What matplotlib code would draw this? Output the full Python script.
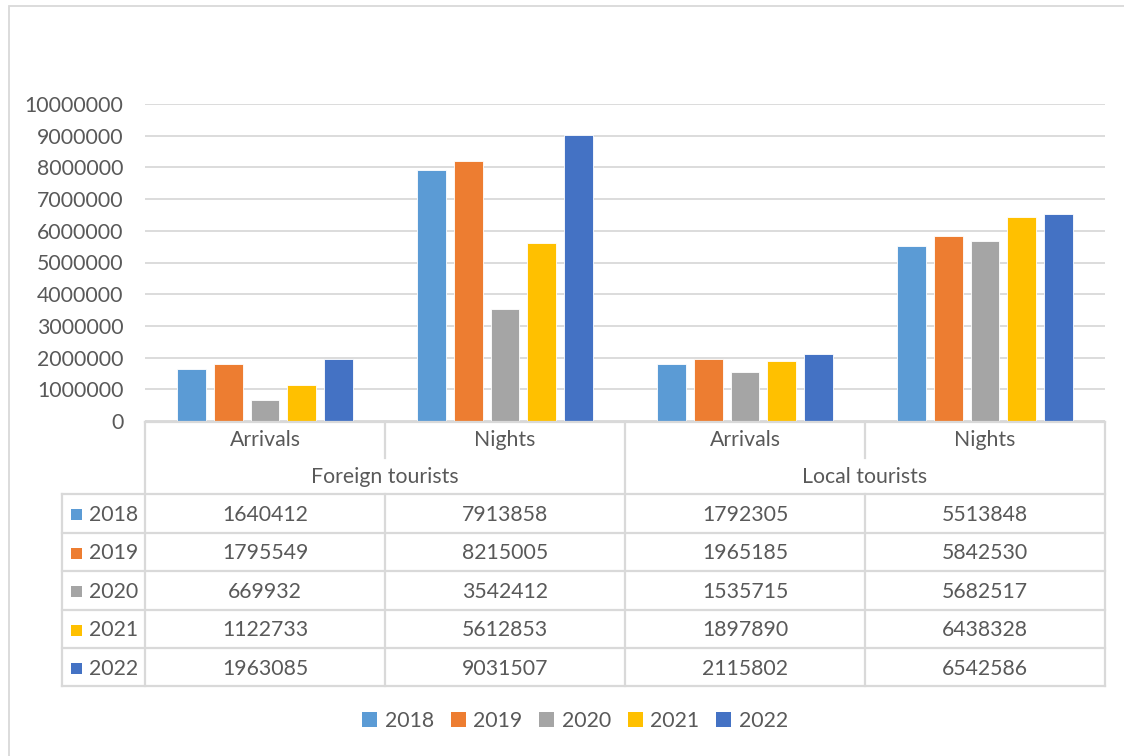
import matplotlib
matplotlib.use("Agg")
import matplotlib.pyplot as plt
from matplotlib.patches import Rectangle, Patch

plt.rcParams['font.family'] = ['Lato', 'DejaVu Sans']

years = ['2018', '2019', '2020', '2021', '2022']
groups = ['Foreign tourists', 'Local tourists']
measures = ['Arrivals', 'Nights']
colors = ['#5B9BD5', '#ED7D31', '#A5A5A5', '#FFC000', '#4472C4']

# values per year: [Foreign Arrivals, Foreign Nights, Local Arrivals, Local Nights]
v2018 = [1640412, 7913858, 1792305, 5513848]
v2019 = [1795549, 8215005, 1965185, 5842530]
v2020 = [669932, 3542412, 1535715, 5682517]
v2021 = [1122733, 5612853, 1897890, 6438328]
v2022 = [1963085, 9031507, 2115802, 6542586]
values = [v2018, v2019, v2020, v2021, v2022]

W, H = 1124, 756
fig = plt.figure(figsize=(W / 100, H / 100), dpi=100)
TXT = '#595959'
GRID = '#D9D9D9'
FS = 15.3

def fx(px):
    return px / W

def fy(py):
    return 1 - py / H

# chart area border
fig.patches.append(Rectangle((fx(8.5), -0.1), 1.2, fy(5.5) + 0.1, transform=fig.transFigure,
                             fill=False, edgecolor=GRID, linewidth=1.3, zorder=0))

L, R, T, B = 145, 1105, 104, 421
ax = fig.add_axes([fx(L), fy(B), fx(R) - fx(L), fy(T) - fy(B)])
ncat = 4
ax.set_xlim(0, ncat)
ax.set_ylim(0, 10000000)
ax.set_yticks(range(0, 10000001, 1000000))
ax.set_yticklabels([str(v) for v in range(0, 10000001, 1000000)])
ax.tick_params(axis='y', length=0, pad=15.5, labelsize=FS, labelcolor=TXT)
ax.tick_params(axis='x', length=0, labelbottom=False)
for s in ax.spines.values():
    s.set_visible(False)
ax.grid(axis='y', color=GRID, linewidth=1.3)
ax.set_axisbelow(True)

step, bw = 0.1525, 0.12
for j, (yr, vals) in enumerate(zip(years, values)):
    xs = [i + 0.5 + (j - 2) * step for i in range(ncat)]
    ax.bar(xs, vals, width=bw, color=colors[j], edgecolor='white', linewidth=0.6, zorder=3)

# data table
TT, TB = 422, 686.5
tax = fig.add_axes([fx(L), fy(TB), fx(R) - fx(L), fy(TT) - fy(TB)])
tax.set_xlim(0, ncat)
tax.set_ylim(TB, TT)
tax.axis('off')
lkw = dict(color=GRID, linewidth=1.6, clip_on=False)
row_h = 38.5
r_top = 494
rows_y = [r_top + k * row_h for k in range(6)]
legx = (62 - L) / 240
# horizontal lines
tax.plot([0, ncat], [TT, TT], **lkw)
for y in rows_y:
    tax.plot([legx, ncat], [y, y], **lkw)
# vertical lines
tax.plot([0, 0], [TT, rows_y[-1]], **lkw)
tax.plot([ncat, ncat], [TT, rows_y[-1]], **lkw)
tax.plot([legx, legx], [rows_y[0], rows_y[-1]], **lkw)
tax.plot([2, 2], [TT, rows_y[-1]], **lkw)
for x in (1, 3):
    tax.plot([x, x], [TT, 458], **lkw)
    tax.plot([x, x], [rows_y[0], rows_y[-1]], **lkw)

for i in range(ncat):
    tax.text(i + 0.5, 440, measures[i % 2], ha='center', va='center', fontsize=FS, color=TXT)
for g, name in enumerate(groups):
    tax.text(2 * g + 1, 477, name, ha='center', va='center', fontsize=FS, color=TXT)
for j, (yr, vals) in enumerate(zip(years, values)):
    yc = rows_y[j] + row_h / 2 + 1.5
    for i, v in enumerate(vals):
        tax.text(i + 0.5, yc, str(v), ha='center', va='center', fontsize=FS, color=TXT)
    sq = (82 - 71) / 240
    tax.add_patch(Rectangle(((71 - L) / 240, yc - 5.5), sq, 11, facecolor=colors[j],
                            edgecolor='none', clip_on=False))
    tax.text((89 - L) / 240, yc, yr, ha='left', va='center', fontsize=FS, color=TXT)

handles = [Patch(facecolor=c, edgecolor='none') for c in colors]
fig.legend(handles, years, loc='center', bbox_to_anchor=(fx(575), fy(721)), ncol=5,
           frameon=False, fontsize=FS, labelcolor=TXT, handlelength=0.7, handleheight=0.7,
           handletextpad=0.35, columnspacing=0.8)

fig.savefig('out.png', dpi=100)
